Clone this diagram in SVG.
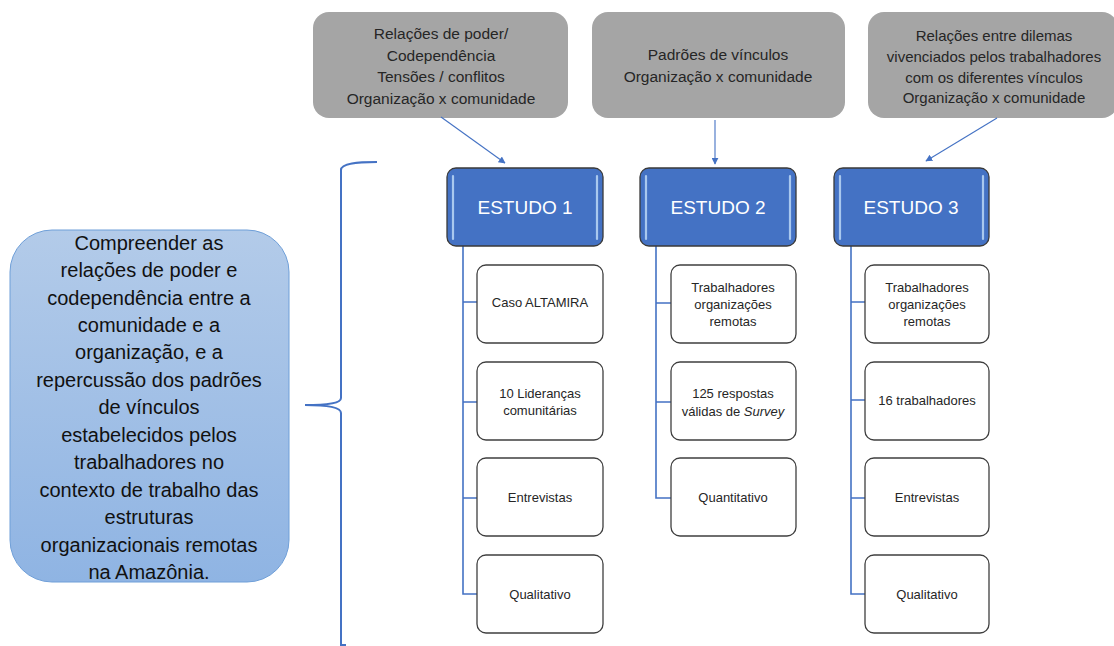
<svg xmlns="http://www.w3.org/2000/svg" width="1114" height="646" viewBox="0 0 1114 646">
<defs>
<linearGradient id="gl" x1="0" y1="0" x2="0" y2="1">
<stop offset="0" stop-color="#b3cbe9"/>
<stop offset="1" stop-color="#8fb4e3"/>
</linearGradient>
<marker id="ah" viewBox="0 0 10 10" refX="9" refY="5" markerWidth="7" markerHeight="7" orient="auto" markerUnits="userSpaceOnUse">
<path d="M0,0 L10,5 L0,10 z" fill="#4472c4"/>
</marker>
<style>
text{font-family:"Liberation Sans",Arial,sans-serif;text-anchor:middle;dominant-baseline:central}
.gray{fill:#a5a5a5}
.gt{font-size:15.5px;fill:#262626}
.gt3{font-size:15px;fill:#262626}
.est{fill:#4472c4;stroke:#3a3a3a;stroke-width:1.3}
.hl{stroke:#a9c8ee;stroke-width:2.2;stroke-linecap:round}
.et{font-size:19px;fill:#ffffff}
.child{fill:#ffffff;stroke:#3f3f3f;stroke-width:1.3}
.ct{font-size:13px;fill:#262626}
.conn{fill:none;stroke:#4472c4;stroke-width:1.6}
.arr{fill:none;stroke:#4472c4;stroke-width:1.1}
.lt{font-size:20px;fill:#111111}
</style>
</defs>

<g id="goal">
<rect x="10" y="230" width="279" height="352" rx="42" fill="url(#gl)" stroke="#6f9fd8" stroke-width="1"/>
<text class="lt" x="149" y="243">Compreender as</text>
<text class="lt" x="149" y="270">relações de poder e</text>
<text class="lt" x="149" y="298">codependência entre a</text>
<text class="lt" x="149" y="325">comunidade e a</text>
<text class="lt" x="149" y="352">organização, e a</text>
<text class="lt" x="149" y="380">repercussão dos padrões</text>
<text class="lt" x="149" y="407">de vínculos</text>
<text class="lt" x="149" y="435">estabelecidos pelos</text>
<text class="lt" x="149" y="462">trabalhadores no</text>
<text class="lt" x="149" y="490">contexto de trabalho das</text>
<text class="lt" x="149" y="517">estruturas</text>
<text class="lt" x="149" y="545">organizacionais remotas</text>
<text class="lt" x="149" y="572">na Amazônia.</text>
</g>

<g id="brace">
<path d="M377,162 C358,162 341,163 341,170 L341,398 C341,403 330,405 305,405 C330,405 341,408 341,413 L341,645 L346,645" fill="none" stroke="#4472c4" stroke-width="2"/>
</g>

<g id="topic1">
<rect class="gray" x="313" y="12" width="255" height="106" rx="16"/>
<text class="gt" x="441" y="33">Relações de poder/</text>
<text class="gt" x="441" y="55">Codependência</text>
<text class="gt" x="441" y="76">Tensões / conflitos</text>
<text class="gt" x="441" y="98">Organização x comunidade</text>
</g>
<g id="topic2">
<rect class="gray" x="592" y="12" width="253" height="106" rx="16"/>
<text class="gt" x="718" y="54">Padrões de vínculos</text>
<text class="gt" x="718" y="76">Organização x comunidade</text>
</g>
<g id="topic3">
<rect class="gray" x="868" y="12" width="250" height="106" rx="16"/>
<text class="gt3" x="994" y="35">Relações entre dilemas</text>
<text class="gt3" x="994" y="56">vivenciados pelos trabalhadores</text>
<text class="gt3" x="994" y="77">com os diferentes vínculos</text>
<text class="gt3" x="994" y="97">Organização x comunidade</text>
</g>

<g id="connectors">
<line class="arr" x1="441" y1="117" x2="505" y2="163" marker-end="url(#ah)"/>
<line class="arr" x1="715" y1="120" x2="715" y2="164" marker-end="url(#ah)"/>
<line class="arr" x1="997" y1="118" x2="926" y2="161" marker-end="url(#ah)"/>
<path class="conn" d="M463,246 V594 H477 M463,302 H477 M463,402 H477 M463,498 H477"/>
<path class="conn" d="M656,246 V498 H671 M656,303 H671 M656,402 H671"/>
<path class="conn" d="M851,246 V594 H865 M851,302 H865 M851,400 H865 M851,498 H865"/>
</g>

<g id="estudo1">
<rect class="est" x="447" y="168" width="156" height="78" rx="9"/>
<line class="hl" x1="453" y1="176" x2="453" y2="239"/>
<line class="hl" x1="597" y1="176" x2="597" y2="239"/>
<text class="et" x="525" y="207">ESTUDO 1</text>
</g>
<g id="estudo2">
<rect class="est" x="640" y="168" width="156" height="78" rx="9"/>
<line class="hl" x1="646" y1="176" x2="646" y2="239"/>
<line class="hl" x1="790" y1="176" x2="790" y2="239"/>
<text class="et" x="718" y="207">ESTUDO 2</text>
</g>
<g id="estudo3">
<rect class="est" x="834" y="168" width="155" height="78" rx="9"/>
<line class="hl" x1="840" y1="176" x2="840" y2="239"/>
<line class="hl" x1="983" y1="176" x2="983" y2="239"/>
<text class="et" x="911" y="207">ESTUDO 3</text>
</g>

<g id="e1c1"><rect class="child" x="477" y="265" width="126" height="78" rx="9"/><text class="ct" x="540" y="302">Caso ALTAMIRA</text></g>
<g id="e1c2"><rect class="child" x="477" y="362" width="126" height="78" rx="9"/><text class="ct" x="540" y="393">10 Lideranças</text><text class="ct" x="540" y="410">comunitárias</text></g>
<g id="e1c3"><rect class="child" x="477" y="458" width="126" height="78" rx="9"/><text class="ct" x="540" y="497">Entrevistas</text></g>
<g id="e1c4"><rect class="child" x="477" y="555" width="126" height="78" rx="9"/><text class="ct" x="540" y="594">Qualitativo</text></g>

<g id="e2c1"><rect class="child" x="671" y="265" width="125" height="78" rx="9"/><text class="ct" x="733" y="287">Trabalhadores</text><text class="ct" x="733" y="304">organizações</text><text class="ct" x="733" y="321">remotas</text></g>
<g id="e2c2"><rect class="child" x="671" y="362" width="125" height="78" rx="9"/><text class="ct" x="733" y="393">125 respostas</text><text class="ct" x="733" y="411">válidas de <tspan font-style="italic">Survey</tspan></text></g>
<g id="e2c3"><rect class="child" x="671" y="458" width="125" height="78" rx="9"/><text class="ct" x="733" y="497">Quantitativo</text></g>

<g id="e3c1"><rect class="child" x="865" y="265" width="124" height="78" rx="9"/><text class="ct" x="927" y="287">Trabalhadores</text><text class="ct" x="927" y="304">organizações</text><text class="ct" x="927" y="321">remotas</text></g>
<g id="e3c2"><rect class="child" x="865" y="362" width="124" height="78" rx="9"/><text class="ct" x="927" y="400">16 trabalhadores</text></g>
<g id="e3c3"><rect class="child" x="865" y="458" width="124" height="78" rx="9"/><text class="ct" x="927" y="497">Entrevistas</text></g>
<g id="e3c4"><rect class="child" x="865" y="555" width="124" height="78" rx="9"/><text class="ct" x="927" y="594">Qualitativo</text></g>
</svg>
